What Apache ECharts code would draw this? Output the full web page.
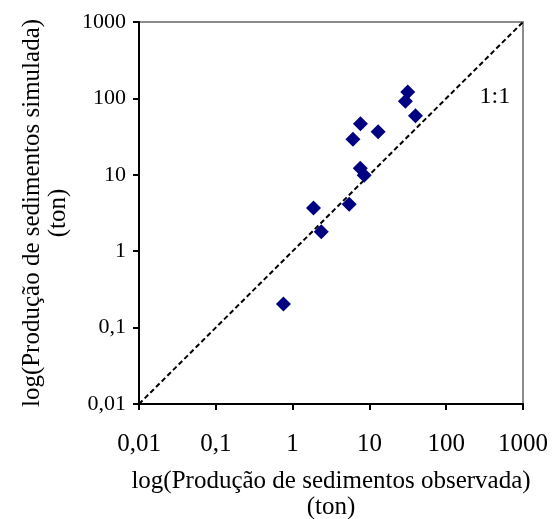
<!DOCTYPE html>
<html>
<head>
<meta charset="utf-8">
<script src="https://cdn.jsdelivr.net/npm/echarts@6/dist/echarts.min.js"></script>
<style>
  html, body { margin: 0; padding: 0; background: #fff; }
  #chart { width: 553px; height: 519px; }
</style>
</head>
<body>
<div id="chart"></div>
<script>
// Observed vs simulated sediment yield (ton), log-log
const observed  = [0.76, 1.87, 2.36, 5.46, 7.6, 8.55, 6.1, 7.65, 13.0, 31.6, 29.4, 39.8];
const simulated = [0.204, 3.67, 1.80, 4.11, 12.2, 9.9, 29.1, 46.6, 36.7, 121, 91.6, 59.4];
const tickValues = [0.01, 0.1, 1, 10, 100, 1000];
const tickLabels = ['0,01', '0,1', '1', '10', '100', '1000'];
const identityLine = [[0.01, 0.01], [1000, 1000]];
const identityLabelAt = [430, 105];

const FONT = '"Liberation Serif", "Times New Roman", serif';

function fmt(v) {
  let best = 0, bd = Infinity;
  tickValues.forEach((t, i) => {
    const d = Math.abs(Math.log10(v) - Math.log10(t));
    if (d < bd) { bd = d; best = i; }
  });
  return tickLabels[best];
}

const chart = echarts.init(document.getElementById('chart'), null, { renderer: 'canvas' });

const axisCommon = {
  type: 'log',
  logBase: 10,
  min: 0.01,
  max: 1000,
  splitLine: { show: false },
  minorTick: { show: false },
  axisLine: { show: true, onZero: false, lineStyle: { color: '#000', width: 2 } },
  axisTick: { show: true, inside: false, length: 6, lineStyle: { color: '#000', width: 2 } },
  nameLocation: 'middle',
  nameTextStyle: { color: '#000', fontFamily: FONT, fontSize: 25, lineHeight: 26 }
};

chart.setOption({
  animation: false,
  backgroundColor: '#fff',
  grid: {
    left: 139, right: 30, top: 22, bottom: 115,
    outerBoundsMode: 'none',
    containLabel: false,
    show: true, borderColor: '#8c8c8c', borderWidth: 2, backgroundColor: 'transparent'
  },
  xAxis: Object.assign({}, axisCommon, {
    name: 'log(Produção de sedimentos observada)\n(ton)',
    nameGap: 64,
    axisLabel: { formatter: fmt, color: '#000', fontFamily: FONT, fontSize: 25, margin: 28 }
  }),
  yAxis: Object.assign({}, axisCommon, {
    name: 'log(Produção de sedimentos simulada)\n(ton)',
    nameGap: 67,
    nameRotate: 90,
    axisLabel: { formatter: fmt, color: '#000', fontFamily: FONT, fontSize: 22, margin: 13 }
  }),
  series: [
    {
      type: 'line',
      data: identityLine,
      symbol: 'none',
      lineStyle: { color: '#000', width: 2, type: [5, 3] },
      z: 2
    },
    {
      type: 'scatter',
      data: observed.map((x, i) => [x, simulated[i]]),
      symbol: 'diamond',
      symbolSize: [15, 15],
      itemStyle: { color: '#000080', opacity: 1 },
      z: 3
    },
    {
      type: 'scatter',
      data: [identityLabelAt],
      symbolSize: 0,
      itemStyle: { opacity: 1 },
      label: {
        show: true, position: 'inside', formatter: '1:1',
        color: '#000', fontFamily: FONT, fontSize: 24
      },
      silent: true
    }
  ]
});
</script>
</body>
</html>
